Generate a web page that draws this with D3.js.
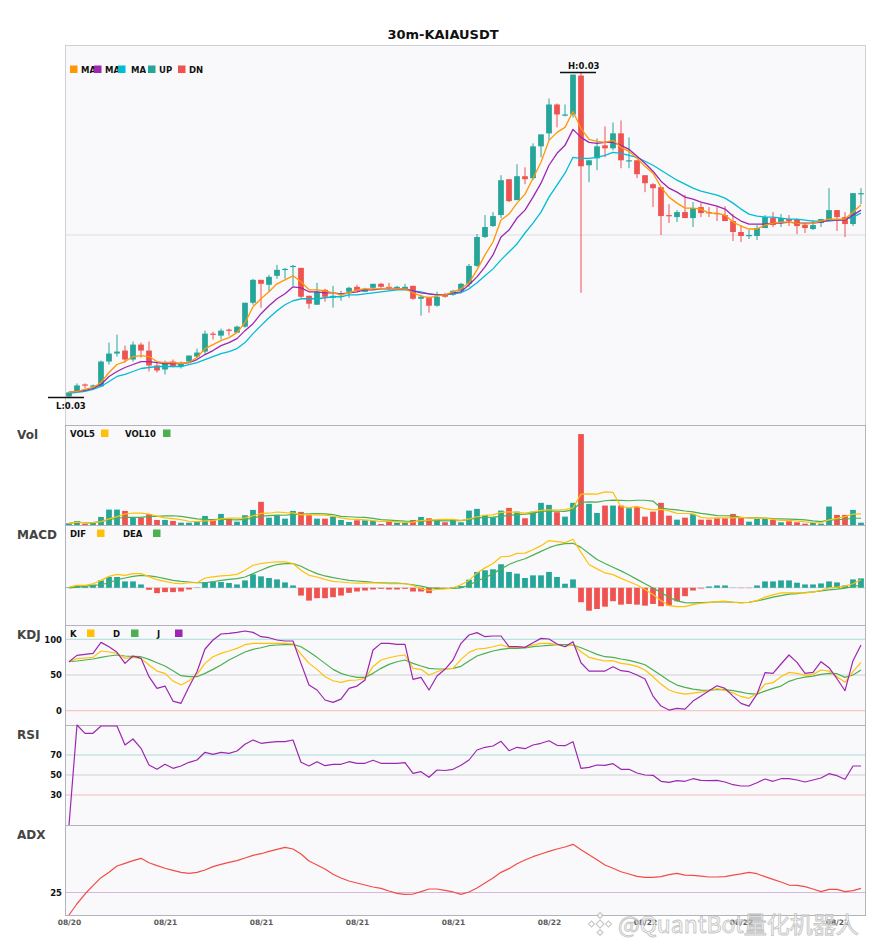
<!DOCTYPE html>
<html>
<head>
<meta charset="utf-8">
<title>30m-KAIAUSDT</title>
<script src="https://cdn.jsdelivr.net/npm/d3@7/dist/d3.min.js"></script>
<style>
    body { margin: 0; background: #fff; }
    svg { display: block; font-family: "DejaVu Sans", sans-serif; }
</style>
</head>
<body>
<script>
//anonymous function to keep everything in a local scope
(function(){

    //title and x axis ticks (one label every 12 candles = 6 hours)
    var chartTitle = "30m-KAIAUSDT";
    var tickIndex = [0, 12, 24, 36, 48, 60, 72, 84, 96];
    var tickLabels = ["08/20", "08/21", "08/21", "08/21", "08/21", "08/22", "08/22", "08/22", "08/22"];

    //candles (USDT)
    var open = [0.03038,0.03043,0.03050,0.03048,0.03048,0.03073,0.03081,0.03084,0.03075,0.03090,
        0.03084,0.03069,0.03065,0.03073,0.03068,0.03073,0.03078,0.03083,0.03101,0.03099,
        0.03105,0.03102,0.03108,0.03132,0.03155,0.03150,0.03159,0.03165,0.03168,0.03167,
        0.03139,0.03130,0.03145,0.03137,0.03138,0.03143,0.03148,0.03143,0.03147,0.03151,
        0.03148,0.03147,0.03146,0.03149,0.03136,0.03138,0.03129,0.03140,0.03140,0.03144,
        0.03151,0.03169,0.03198,0.03209,0.03220,0.03256,0.03235,0.03259,0.03257,0.03289,
        0.03302,0.03331,0.03320,0.03321,0.03360,0.03270,0.03277,0.03290,0.03287,0.03302,
        0.03274,0.03275,0.03260,0.03251,0.03248,0.03220,0.03218,0.03223,0.03217,0.03228,
        0.03223,0.03222,0.03220,0.03214,0.03203,0.03199,0.03199,0.03207,0.03217,0.03212,
        0.03216,0.03216,0.03210,0.03206,0.03212,0.03216,0.03225,0.03218,0.03211,0.03241];
    var high = [0.03043,0.03051,0.03051,0.03050,0.03074,0.03092,0.03100,0.03089,0.03093,0.03092,
        0.03093,0.03072,0.03074,0.03075,0.03073,0.03079,0.03086,0.03104,0.03103,0.03106,
        0.03106,0.03109,0.03132,0.03156,0.03155,0.03160,0.03170,0.03167,0.03170,0.03167,
        0.03139,0.03152,0.03146,0.03149,0.03144,0.03148,0.03150,0.03147,0.03151,0.03152,
        0.03152,0.03149,0.03151,0.03149,0.03140,0.03138,0.03143,0.03142,0.03145,0.03152,
        0.03171,0.03201,0.03220,0.03223,0.03260,0.03256,0.03271,0.03268,0.03292,0.03301,
        0.03337,0.03332,0.03331,0.03361,0.03363,0.03275,0.03297,0.03309,0.03313,0.03315,
        0.03298,0.03275,0.03260,0.03252,0.03248,0.03231,0.03225,0.03240,0.03233,0.03232,
        0.03228,0.03228,0.03229,0.03221,0.03210,0.03205,0.03210,0.03220,0.03223,0.03221,
        0.03220,0.03216,0.03212,0.03215,0.03216,0.03247,0.03225,0.03223,0.03242,0.03247];
    var low = [0.03037,0.03043,0.03046,0.03045,0.03048,0.03070,0.03078,0.03072,0.03073,0.03077,
        0.03063,0.03062,0.03060,0.03067,0.03066,0.03072,0.03076,0.03080,0.03095,0.03095,
        0.03099,0.03102,0.03107,0.03130,0.03127,0.03143,0.03156,0.03156,0.03149,0.03136,
        0.03126,0.03130,0.03133,0.03127,0.03134,0.03137,0.03143,0.03143,0.03145,0.03147,
        0.03145,0.03145,0.03145,0.03135,0.03119,0.03122,0.03128,0.03137,0.03139,0.03143,
        0.03148,0.03168,0.03197,0.03208,0.03217,0.03233,0.03235,0.03251,0.03255,0.03278,
        0.03295,0.03308,0.03319,0.03318,0.03142,0.03253,0.03265,0.03278,0.03285,0.03267,
        0.03267,0.03257,0.03243,0.03228,0.03200,0.03212,0.03213,0.03217,0.03208,0.03218,
        0.03218,0.03214,0.03214,0.03194,0.03193,0.03196,0.03195,0.03207,0.03208,0.03208,
        0.03209,0.03201,0.03202,0.03205,0.03208,0.03215,0.03204,0.03198,0.03209,0.03231];
    var close = [0.03042,0.03049,0.03049,0.03049,0.03073,0.03081,0.03083,0.03075,0.03090,0.03084,
        0.03069,0.03064,0.03072,0.03068,0.03071,0.03079,0.03082,0.03101,0.03100,0.03104,
        0.03104,0.03108,0.03132,0.03155,0.03151,0.03158,0.03165,0.03166,0.03169,0.03138,
        0.03131,0.03143,0.03138,0.03139,0.03139,0.03147,0.03144,0.03146,0.03151,0.03148,
        0.03147,0.03148,0.03148,0.03136,0.03138,0.03129,0.03138,0.03138,0.03144,0.03151,
        0.03169,0.03198,0.03208,0.03219,0.03255,0.03234,0.03259,0.03256,0.03289,0.03301,
        0.03331,0.03321,0.03321,0.03361,0.03269,0.03275,0.03289,0.03287,0.03302,0.03275,
        0.03275,0.03261,0.03252,0.03247,0.03219,0.03219,0.03223,0.03217,0.03227,0.03222,
        0.03222,0.03221,0.03214,0.03203,0.03199,0.03200,0.03207,0.03218,0.03210,0.03217,
        0.03214,0.03209,0.03207,0.03210,0.03216,0.03225,0.03218,0.03211,0.03242,0.03242];

    //moving average lines as drawn on the chart
    var ma5 = [0.03042,0.03043,0.03045,0.03047,0.03052,0.03062,0.03070,0.03073,0.03078,0.03079,
        0.03078,0.03073,0.03072,0.03072,0.03071,0.03072,0.03077,0.03086,0.03090,0.03094,
        0.03097,0.03102,0.03112,0.03128,0.03136,0.03143,0.03151,0.03155,0.03159,0.03153,
        0.03145,0.03145,0.03144,0.03142,0.03140,0.03142,0.03145,0.03146,0.03146,0.03146,
        0.03147,0.03146,0.03146,0.03142,0.03139,0.03137,0.03139,0.03140,0.03143,0.03146,
        0.03152,0.03165,0.03180,0.03193,0.03215,0.03221,0.03232,0.03241,0.03257,0.03273,
        0.03295,0.03303,0.03308,0.03324,0.03307,0.03296,0.03294,0.03293,0.03295,0.03288,
        0.03284,0.03277,0.03269,0.03262,0.03248,0.03238,0.03232,0.03227,0.03227,0.03226,
        0.03222,0.03222,0.03220,0.03213,0.03209,0.03206,0.03206,0.03210,0.03212,0.03213,
        0.03213,0.03212,0.03211,0.03212,0.03214,0.03216,0.03216,0.03216,0.03223,0.03230];
    var ma10 = [0.03042,0.03043,0.03044,0.03046,0.03050,0.03058,0.03063,0.03067,0.03070,0.03073,
        0.03073,0.03072,0.03071,0.03071,0.03071,0.03072,0.03075,0.03080,0.03084,0.03089,
        0.03092,0.03096,0.03104,0.03111,0.03121,0.03129,0.03136,0.03141,0.03148,0.03147,
        0.03143,0.03143,0.03142,0.03142,0.03141,0.03142,0.03143,0.03145,0.03145,0.03146,
        0.03146,0.03146,0.03146,0.03144,0.03142,0.03141,0.03140,0.03140,0.03142,0.03143,
        0.03150,0.03158,0.03168,0.03180,0.03198,0.03205,0.03217,0.03225,0.03238,0.03252,
        0.03270,0.03282,0.03290,0.03306,0.03298,0.03293,0.03292,0.03293,0.03293,0.03290,
        0.03286,0.03279,0.03272,0.03264,0.03254,0.03247,0.03243,0.03238,0.03236,0.03233,
        0.03231,0.03229,0.03226,0.03219,0.03214,0.03211,0.03211,0.03211,0.03212,0.03212,
        0.03213,0.03212,0.03212,0.03212,0.03213,0.03215,0.03215,0.03215,0.03220,0.03225];
    var ma20 = [0.03041,0.03042,0.03043,0.03045,0.03048,0.03053,0.03058,0.03060,0.03063,0.03066,
        0.03067,0.03068,0.03068,0.03068,0.03068,0.03070,0.03072,0.03075,0.03078,0.03081,
        0.03083,0.03086,0.03092,0.03101,0.03109,0.03117,0.03124,0.03130,0.03134,0.03136,
        0.03136,0.03136,0.03137,0.03138,0.03138,0.03140,0.03140,0.03141,0.03142,0.03143,
        0.03144,0.03145,0.03145,0.03144,0.03143,0.03141,0.03140,0.03140,0.03141,0.03142,
        0.03146,0.03152,0.03159,0.03166,0.03175,0.03183,0.03191,0.03202,0.03212,0.03223,
        0.03238,0.03250,0.03262,0.03278,0.03277,0.03277,0.03278,0.03280,0.03283,0.03282,
        0.03280,0.03278,0.03274,0.03270,0.03265,0.03260,0.03255,0.03251,0.03247,0.03244,
        0.03242,0.03240,0.03237,0.03232,0.03226,0.03221,0.03219,0.03218,0.03218,0.03217,
        0.03216,0.03216,0.03215,0.03214,0.03214,0.03214,0.03215,0.03216,0.03218,0.03222];

    //volume (M) and its averages
    var volume = [1.7,4,1,2.3,8,15.3,15.3,14,7.3,7.3,
        10.7,5,5,4,2.3,2.3,3,9,5,11,
        6.3,3.3,9.7,15,23,7.3,9.7,6.3,14,13,
        9.7,6.3,6.3,8.3,5,3,4.7,4.7,4,1,
        4,2.3,2.3,5,8,6.7,5,2.7,5.3,2.7,
        14.3,16,10,7.7,14.3,17,13.3,6.7,13.3,22,
        20,12.7,8.3,22,90.3,21,12,19.3,19.3,19.3,
        16.7,17.7,8.3,13.3,22,9.3,5.3,7.3,11,5.3,
        5.3,6.7,6.7,11,7.7,3.3,6,6,5,2.7,
        3.7,2.7,1.3,2,1.3,18.3,10,10,15,2.3];
    var vol5 = [1.7,2.9,2.2,2.3,3.4,6.1,8.3,10.9,11.9,11.7,
        10.9,8.9,7.1,6.4,5.4,3.7,3.3,4.1,4.3,6.1,
        6.9,6.9,7.1,9.1,11.5,11.7,12.9,12.3,12.1,10.1,
        10.5,9.9,9.9,8.7,7.1,5.8,5.5,5.1,4.3,3.5,
        3.7,3.2,2.7,2.9,4.3,4.9,5.4,5.5,5.5,4.5,
        6,8.2,9.7,10.1,12.5,13,12.5,11.8,12.9,14.5,
        15.1,14.9,15.3,17,30.7,30.9,30.7,32.9,32.4,18.2,
        17.3,18.5,16.3,15.1,15.6,14.1,11.6,11.4,11,7.6,
        6.8,7.1,7,7,7.5,7.1,6.9,6.8,5.6,4.6,
        4.7,4,3.1,2.5,2.2,5.1,6.6,8.3,10.9,11.1];
    var vol10 = [1.7,2.9,2.2,2.3,3.4,5.3,6.7,7.6,7.6,7.6,
        8.5,8.6,9,9.2,8.6,7.3,6.1,5.6,5.4,5.8,
        5.3,5.1,5.6,6.7,8.8,9.3,9.9,9.7,10.6,10.8,
        11.1,11.4,11.1,10.4,8.6,8.2,7.7,7.5,6.5,5.3,
        4.8,4.4,3.9,3.6,3.9,4.3,4.3,4.1,4.2,4.4,
        5.5,6.8,7.6,7.8,8.5,9.5,10.4,10.8,11.5,13.5,
        14.1,13.7,13.6,15,22.6,23,22.8,24.1,24.7,24.5,
        24.1,24.6,24.6,23.8,16.9,15.7,15.1,13.9,13.1,11.6,
        10.5,9.4,9.2,9,7.6,7,7,6.9,6.3,6.1,
        5.9,5.5,5,4.1,3.4,4.9,5.3,5.7,6.7,6.7];

    //MACD (x 1e-6)
    var dif = [0.7,2.3,2.3,4,7.3,11.3,13.3,12.3,14,14,
        11,8,6.3,4.7,4,5,5,9.7,10.7,11.7,
        12.3,13.3,17.3,22.3,24,25,25.7,25.7,24,17.3,
        12.3,10.7,8.3,6.3,5.7,5,4.7,4.7,5,4.7,
        4,4,4,2.3,-1,-2.7,-1.7,-1,0,3,
        7.3,14.7,19.7,24,30.7,31,34,34.3,37.7,41.7,
        46.7,45.7,44.7,48,35,23,18.7,14.7,13,9.3,
        6,2.7,-1.7,-6.7,-12.7,-17.7,-18.7,-18.7,-16.7,-15.3,
        -14.7,-13.7,-13.3,-14.3,-15,-14.3,-12.7,-9.3,-7,-5,
        -5,-5,-5,-4.3,-2.7,0,0.7,1.7,4,8];
    var dea = [0,0.7,1.3,2.3,3,5,8,9.7,11.3,12.3,
        11.7,10.7,9,7.3,6.3,5.7,5,5,6,7.3,
        8.3,9,10.7,14,17.3,20.7,23,24,24,21.3,
        17.3,14,11.7,10,8.7,7.3,6.7,6,5.3,5,
        4.7,4.7,4,3,1.7,0,-0.3,-0.7,-0.7,0,
        2.7,6.7,10,14,18.7,23,26.3,28.7,32.3,36,
        39.7,42.3,43.7,44,40,34,28,24,20.3,16.7,
        12.7,8.3,4,-0.3,-4.7,-9.3,-13,-14.7,-15,-14.7,
        -14.3,-14,-14,-14.3,-14.7,-14.3,-13,-11.3,-9.3,-7.7,
        -6.3,-5.7,-4.7,-4,-3,-2,-1.3,-0.3,1.3,2.7];
    var macdHist = [0.5,2.3,1.7,3,7.3,10.7,10.7,6.3,6.3,3.3,
        -2,-5.3,-4.3,-4.3,-3.7,-1.7,0.3,5.7,5.7,5.7,
        4.7,3.3,7.3,13.3,11.3,9.7,8.3,5.3,2.3,-7.7,
        -12.7,-10.3,-10.3,-9.3,-7.7,-5,-3.7,-2.7,-1.7,-1,
        -1.7,-1.7,-1,-3.7,-3.7,-5.3,-1,-1,0.7,1.7,
        8,15.7,17.3,18.3,23.3,15.7,14,9.7,12.3,12.3,
        15.7,10.7,4,8.3,-14.3,-22.7,-21,-18.7,-13.3,-16.7,
        -16,-16.7,-17.7,-16,-18.3,-17.7,-13.3,-8.3,-2.7,-0.7,
        1.3,2.3,2.3,0.2,-0.3,-0.3,2.3,6.3,6.3,7.3,
        7.3,5,3.3,3.3,4.3,6.3,5.3,2.3,8.3,9.3];

    //KDJ
    var kLine = [68.6,72.8,73.8,74.7,83.6,82.2,80.3,73.3,74.7,73.3,
        64,55.5,52.3,41.5,35.9,42,50.9,66.3,75.6,80.3,
        83.6,87.3,92.4,94.3,94.3,94.3,94.3,94.3,93.4,79.4,
        66.3,57.9,47.6,42,39.7,42.5,43,45.3,61.6,71,
        74.2,76.6,78,59.3,57.9,50,54.6,58.8,59.3,71.9,
        81.7,86.4,87.3,89.6,92.4,88.7,88.7,88.7,92,94.3,
        94.3,92.4,89.6,92.9,82.6,74.7,71.9,69.6,70,66.3,
        64.9,62.1,57,47.6,37.3,29,25.2,23.3,24.7,26.1,
        28,30.8,28.5,24.7,20,17.3,24.3,37.3,39.2,47.6,
        53.7,52.3,49.5,50.9,57,55.5,47.6,39.7,54.6,67.7];
    var dLine = [68.6,69.6,71,72.4,74.7,76.6,78,76.6,76.1,75.6,
        71.9,67.2,62.6,56,49,47.6,47.6,52.3,57.9,64,
        71,76.6,82.2,85.9,88.2,91,92,92.4,92.9,89.6,
        82.6,74.7,66.3,57.9,52.3,49,46.7,46.7,52.3,59.3,
        64.9,68.6,71,66.3,62.6,59.3,58.4,58.4,59.3,62.1,
        69.6,76.6,80.3,83.6,85.9,87.3,87.3,87.8,89.6,90.6,
        91.5,92.4,92.4,92,88.2,83.6,78.9,75.6,74.7,72.4,
        70.5,67.7,64.4,57,49.5,42,35.9,32.7,30.3,28.9,
        28.5,29.9,29.4,28,26.1,23.8,23.3,27.5,31.3,34.5,
        41.1,44.8,47.1,48.5,50.9,52.3,51.8,46.7,50,57];
    var jLine = [68.6,77.5,78.9,80.3,95.7,89.6,81.7,66.3,76.6,73.3,
        47.6,31.3,34.5,13.5,10.3,33.6,54.6,86.4,99,107.4,
        108.3,109.7,111.6,109.7,103.6,102.2,99,97.6,97.6,66.3,
        36,29,15,11.7,16.3,31.3,34.5,43,85,94.3,
        94.3,92.9,92.9,43.9,46.7,29,48.5,58,71,94.3,
        106,109.3,103.6,104.6,104.6,89.6,89.6,88.7,95.2,101.3,
        100.4,93.4,89.6,96.6,67.2,55.5,55.5,55.5,61.6,56,
        54.6,50,44.3,20.5,6.5,0.9,3.2,2.3,13.5,20.5,
        28,35,31.3,20.5,10.3,6.5,23.3,53.2,52.3,65.4,
        78,67.7,52.3,53.7,68.6,60.2,44.8,28,70,92];

    //RSI and ADX
    var rsi = [0,100,91.7,91.7,99,99,99,80,86,76.7,
        60,55.7,60.7,56.7,59,62.7,65,72.7,70.7,72.7,
        71.7,74,80.7,85,81.7,82.7,83.3,83.3,85,62.7,
        59,63.3,59.3,60.7,60.7,63.3,61.7,61.7,64.7,61.7,
        61.7,61.7,62.3,51.7,53.3,47.7,55,54.5,55.7,59.7,
        65,75,77.7,79,83.7,74.3,77.7,76.3,80,81.7,
        84.3,79.7,79.3,83.3,56.7,57.7,60,59.7,61.3,55.7,
        55.7,52,50,49.7,43.7,42.7,44.3,43.7,46.3,44.7,
        44.3,44.7,43,40.3,39,39,42.3,46,43.7,46.3,
        46.3,45,43,45,47,51.3,49.3,45.7,59,59];
    var adx = [0,12.5,23.3,32.6,41.5,47.4,54.4,57.4,60.4,63,
        58.1,54.8,51.9,49.6,47.4,46.3,47.4,50,53.7,56.3,
        58.5,60.4,63.3,66.3,68.1,70.7,73,75.2,73.3,67.8,
        60,55.6,51.1,45.2,41.1,37.8,35.6,33.3,31.1,29.6,
        26.7,24.1,23,23.3,25.9,28.9,28.9,27.4,25.6,23,
        25.6,30,35.6,41.1,47.4,51.5,57,61.1,64.8,67.8,
        70.7,73.3,75.6,78.5,72.6,67,61.5,55.6,51.9,48.1,
        45.6,43,41.9,41.9,42.6,44.8,46.3,44.4,44.1,43.3,
        42.2,42.2,42.6,44.4,45.6,47.4,45.9,42.6,39.6,36.7,
        33.3,33,31.5,28.9,25.9,28.5,28.5,25.9,27,29.6];

    //layout
    var width = 885, height = 950,
        left = 65, right = 865;

    var colors = {
        up: "#26a69a", down: "#ef5350",
        ma5: "#ff9800", ma10: "#9c27b0", ma20: "#00bcd4",
        yellow: "#ffc107", green: "#4caf50", purple: "#9c27b0",
        adx: "#f24c47"
    };

    var panels = {
        main: {top: 45, bottom: 425},
        vol: {top: 425, bottom: 525, label: "Vol"},
        macd: {top: 525, bottom: 625, label: "MACD"},
        kdj: {top: 625, bottom: 725, label: "KDJ"},
        rsi: {top: 725, bottom: 825, label: "RSI"},
        adx: {top: 825, bottom: 915, label: "ADX"}
    };

    drawChart();

    function drawChart(){
        var svg = d3.select("body")
            .append("svg")
            .attr("width", width)
            .attr("height", height);
        var defs = svg.append("defs");

        //one slot per candle
        var x = d3.scalePoint()
            .domain(d3.range(open.length))
            .range([left, right])
            .padding(0.5);
        var barWidth = x.step() * 0.72;

        //panel backgrounds and names
        Object.keys(panels).forEach(function(key){
            var p = panels[key];
            svg.append("rect")
                .attr("x", left + 0.5)
                .attr("y", p.top + 0.5)
                .attr("width", right - left)
                .attr("height", p.bottom - p.top)
                .attr("fill", "#f9f9fb")
                .attr("stroke", key == "main" ? "#cfcfd6" : "#b3b3bc")
                .attr("stroke-width", 1);
            if (p.label) {
                svg.append("text")
                    .attr("x", 17)
                    .attr("y", p.top + 14)
                    .style("font-size", "12px")
                    .style("font-weight", "bold")
                    .attr("fill", "#444")
                    .text(p.label);
            }
        });

        //title
        svg.append("text")
            .attr("x", 443)
            .attr("y", 39)
            .attr("text-anchor", "middle")
            .style("font-size", "13px")
            .style("font-weight", "bold")
            .attr("fill", "#111")
            .text(chartTitle);

        var lineGen = function(scale){
            return d3.line()
                .x(function(d, i){ return x(i); })
                .y(function(d){ return scale(d); });
        };

        function addLine(values, scale, color, w){
            svg.append("path")
                .datum(values)
                .attr("fill", "none")
                .attr("stroke", color)
                .attr("stroke-width", w || 1.2)
                .attr("stroke-linejoin", "round")
                .attr("d", lineGen(scale));
        };

        function refLine(scale, value, color){
            svg.append("line")
                .attr("x1", left + 1)
                .attr("x2", right)
                .attr("y1", scale(value))
                .attr("y2", scale(value))
                .attr("stroke", color)
                .attr("stroke-width", 1);
        };

        function refLabels(scale, values){
            var g = svg.append("g")
                .attr("transform", "translate(" + left + ",0)")
                .call(d3.axisLeft(scale).tickValues(values).tickSize(0).tickPadding(3));
            g.select(".domain").remove();
            g.selectAll("text")
                .style("font-family", "DejaVu Sans, sans-serif")
                .style("font-size", "8.5px")
                .style("font-weight", "bold")
                .attr("fill", "#111");
        };

        //legend: text then colour square; clipW cuts a label short like the original
        var clipCount = 0;
        function legend(items, top){
            items.forEach(function(it){
                var t = svg.append("text")
                    .attr("x", it.tx)
                    .attr("y", top + 12)
                    .style("font-size", "8.5px")
                    .style("font-weight", "bold")
                    .attr("fill", "#111")
                    .text(it.label);
                if (it.clipW) {
                    var id = "legclip" + (clipCount++);
                    defs.append("clipPath")
                        .attr("id", id)
                        .append("rect")
                        .attr("x", it.tx)
                        .attr("y", top)
                        .attr("width", it.clipW)
                        .attr("height", 16);
                    t.attr("clip-path", "url(#" + id + ")");
                }
                svg.append("rect")
                    .attr("x", it.sx)
                    .attr("y", top + 4.5)
                    .attr("width", 7.5)
                    .attr("height", 7.5)
                    .attr("fill", it.color);
            });
        };

        var isUp = function(i){ return close[i] >= open[i]; };

        //---------- price panel ----------
        var lo = d3.min(low), hi = d3.max(high), pad = (hi - lo) * 0.085;
        var yPrice = d3.scaleLinear()
            .domain([lo - pad, hi + pad])
            .range([panels.main.bottom, panels.main.top]);

        yPrice.ticks(2).forEach(function(t){ refLine(yPrice, t, "#dedee3"); });

        var candles = svg.append("g")
            .selectAll(".candle")
            .data(d3.range(open.length))
            .enter()
            .append("g")
            .attr("class", "candle");
        candles.append("line")
            .attr("x1", function(i){ return x(i); })
            .attr("x2", function(i){ return x(i); })
            .attr("y1", function(i){ return yPrice(high[i]); })
            .attr("y2", function(i){ return yPrice(low[i]); })
            .attr("stroke", function(i){ return isUp(i) ? colors.up : colors.down; })
            .attr("stroke-width", 1);
        candles.append("rect")
            .attr("x", function(i){ return x(i) - barWidth / 2; })
            .attr("y", function(i){ return yPrice(Math.max(open[i], close[i])); })
            .attr("width", barWidth)
            .attr("height", function(i){
                return Math.max(1.2, Math.abs(yPrice(open[i]) - yPrice(close[i])));
            })
            .attr("fill", function(i){ return isUp(i) ? colors.up : colors.down; });

        addLine(ma20, yPrice, colors.ma20, 1.3);
        addLine(ma10, yPrice, colors.ma10, 1.3);
        addLine(ma5, yPrice, colors.ma5, 1.3);

        //high / low markers
        var hiIdx = d3.maxIndex(high), loIdx = d3.minIndex(low);
        [{i: hiIdx, v: high[hiIdx], txt: "H:", dy: -3.5},
         {i: loIdx, v: low[loIdx], txt: "L:", dy: 12}].forEach(function(m){
            var yy = yPrice(m.v);
            svg.append("line")
                .attr("x1", x(m.i) - 21)
                .attr("x2", x(m.i) + 15)
                .attr("y1", yy)
                .attr("y2", yy)
                .attr("stroke", "#111")
                .attr("stroke-width", 1.5);
            svg.append("text")
                .attr("x", x(m.i) - 13)
                .attr("y", yy + m.dy)
                .style("font-size", "8.5px")
                .style("font-weight", "bold")
                .attr("fill", "#111")
                .text(m.txt + m.v.toFixed(2));
        });

        //main legend (MA labels are cut short by the next square)
        legend([
            {label: "MA5", color: colors.ma5, sx: 70, tx: 81, clipW: 13},
            {label: "MA10", color: colors.ma10, sx: 94, tx: 105, clipW: 13},
            {label: "MA20", color: colors.ma20, sx: 118, tx: 131, clipW: 15},
            {label: "UP", color: colors.up, sx: 148, tx: 159},
            {label: "DN", color: colors.down, sx: 178, tx: 189}
        ], panels.main.top + 16);

        //---------- volume ----------
        var yVol = d3.scaleLinear()
            .domain([0, d3.max(volume) * 1.1])
            .range([panels.vol.bottom, panels.vol.top]);
        svg.append("g")
            .selectAll("rect")
            .data(volume)
            .enter()
            .append("rect")
            .attr("x", function(d, i){ return x(i) - barWidth / 2; })
            .attr("y", function(d){ return yVol(d); })
            .attr("width", barWidth)
            .attr("height", function(d){ return yVol(0) - yVol(d); })
            .attr("fill", function(d, i){ return isUp(i) ? colors.up : colors.down; });
        addLine(vol10, yVol, colors.green);
        addLine(vol5, yVol, colors.yellow);
        legend([
            {label: "VOL5", color: colors.yellow, sx: 101, tx: 70},
            {label: "VOL10", color: colors.green, sx: 163, tx: 125}
        ], panels.vol.top);

        //---------- MACD ----------
        var mAll = dif.concat(dea, macdHist);
        var mMin = d3.min(mAll), mMax = d3.max(mAll), mPad = (mMax - mMin) * 0.2;
        var yMacd = d3.scaleLinear()
            .domain([mMin - mPad, mMax + mPad])
            .range([panels.macd.bottom, panels.macd.top]);
        refLine(yMacd, 0, "#d6d6dc");
        svg.append("g")
            .selectAll("rect")
            .data(macdHist)
            .enter()
            .append("rect")
            .attr("x", function(d, i){ return x(i) - barWidth / 2; })
            .attr("y", function(d){ return yMacd(Math.max(0, d)); })
            .attr("width", barWidth)
            .attr("height", function(d){ return Math.abs(yMacd(d) - yMacd(0)); })
            .attr("fill", function(d){ return d >= 0 ? colors.up : colors.down; });
        addLine(dea, yMacd, colors.green);
        addLine(dif, yMacd, colors.yellow);
        legend([
            {label: "DIF", color: colors.yellow, sx: 97, tx: 70},
            {label: "DEA", color: colors.green, sx: 153, tx: 123}
        ], panels.macd.top);

        //---------- KDJ ----------
        var yKdj = d3.scaleLinear()
            .domain([-20, 120])
            .range([panels.kdj.bottom, panels.kdj.top]);
        refLine(yKdj, 100, "#a9dcd6");
        refLine(yKdj, 50, "#cfcfd4");
        refLine(yKdj, 0, "#f6b9b9");
        refLabels(yKdj, [0, 50, 100]);
        addLine(dLine, yKdj, colors.green);
        addLine(kLine, yKdj, colors.yellow);
        addLine(jLine, yKdj, colors.purple);
        legend([
            {label: "K", color: colors.yellow, sx: 87, tx: 70},
            {label: "D", color: colors.green, sx: 131, tx: 113},
            {label: "J", color: colors.purple, sx: 175, tx: 157}
        ], panels.kdj.top);

        //---------- RSI ----------
        var yRsi = d3.scaleLinear()
            .domain([0, 100])
            .range([panels.rsi.bottom, panels.rsi.top]);
        refLine(yRsi, 70, "#a9dcd6");
        refLine(yRsi, 50, "#cfcfd4");
        refLine(yRsi, 30, "#f6b9b9");
        refLabels(yRsi, [30, 50, 70]);
        addLine(rsi, yRsi, colors.purple);

        //---------- ADX ----------
        var yAdx = d3.scaleLinear()
            .domain([0, 100])
            .range([panels.adx.bottom, panels.adx.top]);
        refLine(yAdx, 25, "#dab5de");
        refLabels(yAdx, [25]);
        addLine(adx, yAdx, colors.adx);

        //x axis labels
        var gx = svg.append("g")
            .attr("transform", "translate(0," + panels.adx.bottom + ")")
            .call(d3.axisBottom(x)
                .tickValues(tickIndex)
                .tickFormat(function(d, i){ return tickLabels[i]; })
                .tickSize(0)
                .tickPadding(4.5));
        gx.select(".domain").remove();
        gx.selectAll("text")
            .style("font-family", "DejaVu Sans, sans-serif")
            .style("font-size", "7.5px")
            .style("font-weight", "bold")
            .attr("fill", "#5a5a5a");

        //watermark of the image source, drawn over the axis like the original
        var wm = svg.append("g").attr("opacity", 0.8);
        var dia = function(cx, cy, r){
            return "M" + cx + "," + (cy - r) + "L" + (cx + r) + "," + cy +
                "L" + cx + "," + (cy + r) + "L" + (cx - r) + "," + cy + "Z";
        };
        wm.append("path")
            .attr("d", dia(600, 924, 4) + dia(600, 915.5, 3) + dia(600, 932.5, 3) +
                dia(591.5, 924, 3) + dia(608.5, 924, 3))
            .attr("fill", "#fff")
            .attr("stroke", "#bdbdbd")
            .attr("stroke-width", 1.1);
        wm.append("text")
            .attr("x", 618)
            .attr("y", 933)
            .style("font-family", "Noto Sans CJK SC, sans-serif")
            .style("font-size", "23px")
            .attr("fill", "#ffffff")
            .attr("stroke", "#b8b8b8")
            .attr("stroke-width", 0.9)
            .text("@QuantBot量化机器人");
    };
})();
</script>
</body>
</html>
